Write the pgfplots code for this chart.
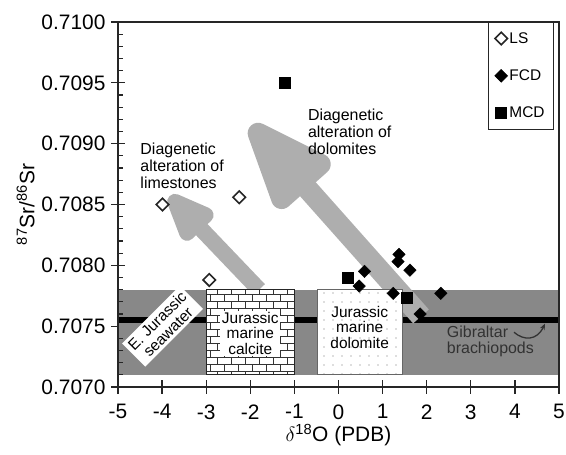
\documentclass[border=0pt]{standalone}
\usepackage{fontspec}
\setmainfont{Liberation Sans}
\usepackage{pgfplots}
\pgfplotsset{compat=1.18}
\usetikzlibrary{arrows.meta,patterns,patterns.meta}
\definecolor{bandgray}{RGB}{136,136,136}
\definecolor{arrowgray}{RGB}{174,174,174}
\definecolor{textgray}{RGB}{50,50,50}

% brick pattern for the calcite box
\pgfdeclarepatternformonly{jbricks}{\pgfpoint{-1bp}{-1bp}}{\pgfpoint{15bp}{15bp}}{\pgfpoint{14bp}{14bp}}{%
  \pgfsetlinewidth{0.9bp}%
  \pgfpathmoveto{\pgfpoint{0bp}{0bp}}\pgfpathlineto{\pgfpoint{14bp}{0bp}}%
  \pgfpathmoveto{\pgfpoint{0bp}{7bp}}\pgfpathlineto{\pgfpoint{14bp}{7bp}}%
  \pgfpathmoveto{\pgfpoint{0bp}{0bp}}\pgfpathlineto{\pgfpoint{0bp}{7bp}}%
  \pgfpathmoveto{\pgfpoint{7bp}{7bp}}\pgfpathlineto{\pgfpoint{7bp}{14bp}}%
  \pgfusepath{stroke}}

\pgfplotstableread{
x y
-3.99 0.70850
-2.25 0.70856
-2.93 0.70788
}\lsdata
\pgfplotstableread{
x y
0.59 0.70795
0.47 0.70783
1.37 0.70809
1.35 0.70803
1.62 0.70796
1.24 0.70777
2.32 0.70777
1.85 0.70760
}\fcddata
\pgfplotstableread{
x y
-1.22 0.70950
0.20 0.70790
1.55 0.70773
}\mcddata

\newcommand{\boxfont}{\fontsize{15.5}{15.5}\selectfont}
\newcommand{\notefont}{\fontsize{16}{17}\selectfont}

\begin{document}
\begin{tikzpicture}
\begin{axis}[
  scale only axis, width=441bp, height=365bp,
  xmin=-5, xmax=5, ymin=0.707, ymax=0.71,
  axis line style={line width=1.1bp, black!85},
  xtick={-5,-4,...,5},
  ytick={0.707,0.7075,0.708,0.7085,0.709,0.7095,0.71},
  scaled y ticks=false,
  yticklabel style={xshift=-2bp, /pgf/number format/.cd, fixed, fixed zerofill, precision=4},
  /pgf/number format/assume math mode=true,
  tick pos=left,
  tick align=center,
  major tick length=14bp,
  major tick style={line width=1.3bp, black!85},
  tick label style={font=\fontsize{21}{24}\selectfont},
  xticklabel style={yshift=-7bp},
  label style={font=\fontsize{21}{24}\selectfont},
  xlabel={$\delta$\textsuperscript{18}O (PDB)},
  xlabel style={yshift=2bp},
  ylabel={\textsuperscript{87}Sr/\textsuperscript{86}Sr},
  legend style={at={(rel axis cs:1,1)}, anchor=north east, xshift=-5bp,
    draw=black!85, line width=0.8bp, font=\fontsize{15.5}{18}\selectfont,
    row sep=21bp, inner xsep=7bp, inner ysep=8bp},
  legend cell align=left,
]
\coordinate (sw) at (rel axis cs:0,0);
\coordinate (ne) at (rel axis cs:1,1);

% seawater band and Gibraltar brachiopod line
\addplot[fill=bandgray, draw=none, forget plot] coordinates {(-4.985,0.7071) (4.985,0.7071) (4.985,0.7078) (-4.985,0.7078)} -- cycle;
\addplot[black, line width=6bp, forget plot] coordinates {(-4.985,0.70755) (4.985,0.70755)};

% inner minor ticks of the y axis, every 0.0001
\addplot[black!85, line width=1.3bp, unbounded coords=jump, forget plot] coordinates {
  (-5,0.7071) (-4.88,0.7071) (-5,nan) (-5,0.7072) (-4.88,0.7072) (-5,nan)
  (-5,0.7073) (-4.88,0.7073) (-5,nan) (-5,0.7074) (-4.88,0.7074) (-5,nan)
  (-5,0.7076) (-4.88,0.7076) (-5,nan) (-5,0.7077) (-4.88,0.7077) (-5,nan)
  (-5,0.7078) (-4.88,0.7078) (-5,nan) (-5,0.7079) (-4.88,0.7079) (-5,nan)
  (-5,0.7081) (-4.88,0.7081) (-5,nan) (-5,0.7082) (-4.88,0.7082) (-5,nan)
  (-5,0.7083) (-4.88,0.7083) (-5,nan) (-5,0.7084) (-4.88,0.7084) (-5,nan)
  (-5,0.7086) (-4.88,0.7086) (-5,nan) (-5,0.7087) (-4.88,0.7087) (-5,nan)
  (-5,0.7088) (-4.88,0.7088) (-5,nan) (-5,0.7089) (-4.88,0.7089) (-5,nan)
  (-5,0.7091) (-4.88,0.7091) (-5,nan) (-5,0.7092) (-4.88,0.7092) (-5,nan)
  (-5,0.7093) (-4.88,0.7093) (-5,nan) (-5,0.7094) (-4.88,0.7094) (-5,nan)
  (-5,0.7096) (-4.88,0.7096) (-5,nan) (-5,0.7097) (-4.88,0.7097) (-5,nan)
  (-5,0.7098) (-4.88,0.7098) (-5,nan) (-5,0.7099) (-4.88,0.7099)
};

% diagenetic alteration arrows
\draw[arrowgray, line width=16bp, -{Triangle[length=62bp, width=44bp, round]}]
  (axis cs:-1.80,0.70780) -- (axis cs:-3.83,0.70857);
\draw[arrowgray, line width=21bp, -{Triangle[length=106bp, width=76bp, round]}]
  (axis cs:1.87,0.70758) -- (axis cs:-1.98,0.70915);

% marine calcite and dolomite boxes
\addplot[draw=black!85, line width=0.8bp, fill=white, postaction={pattern=jbricks, pattern color=black!80}, forget plot]
  coordinates {(-3,0.7071) (-1,0.7071) (-1,0.7078) (-3,0.7078)} -- cycle;
\addplot[draw=black!60, line width=0.8bp, fill=white, postaction={pattern={Dots[distance=9bp, radius=0.7bp]}, pattern color=black!55}, forget plot]
  coordinates {(-0.48,0.7071) (1.45,0.7071) (1.45,0.7078) (-0.48,0.7078)} -- cycle;

\node[fill=white, inner sep=1.5bp, align=center, font=\boxfont] at (axis cs:-2,0.70744) {Jurassic\\marine\\calcite};
\node[align=center, font=\boxfont] at (axis cs:0.48,0.70749) {Jurassic\\marine\\dolomite};
\node[fill=white, rotate=45, align=center, inner sep=3bp, font=\boxfont] at (axis cs:-3.99,0.70750) {E. Jurassic\\seawater};
\node[anchor=west, align=left, text=textgray, font=\notefont] at (axis cs:2.38,0.707375) {Gibraltar\\brachiopods};
\draw[line width=1.3bp, textgray, -{Stealth[length=6bp,width=5bp]}]
  (axis cs:3.98,0.70745) .. controls (axis cs:4.2,0.70738) and (axis cs:4.5,0.70738) .. (axis cs:4.68,0.70752);

\node[anchor=west, align=left, font=\notefont] at (axis cs:-4.57,0.70882) {Diagenetic\\alteration of\\limestones};
\node[anchor=west, align=left, font=\notefont] at (axis cs:-0.77,0.70910) {Diagenetic\\alteration of\\dolomites};

% samples
\addplot[only marks, mark=square, mark size=4.4bp, mark options={rotate=45, fill=white, draw=black!85, line width=1.6bp}] table {\lsdata};
\addlegendentry{LS}
\addplot[only marks, mark=square*, mark size=4.4bp, mark options={rotate=45, fill=black, draw=black}] table {\fcddata};
\addlegendentry{FCD}
\addplot[only marks, mark=square*, mark size=5.5bp, mark options={fill=black, draw=black}] table {\mcddata};
\addlegendentry{MCD}
\end{axis}
\pgfresetboundingbox
\path ([xshift=-118bp,yshift=-68bp]sw) rectangle ([xshift=7bp,yshift=22bp]ne);
\end{tikzpicture}
\end{document}
